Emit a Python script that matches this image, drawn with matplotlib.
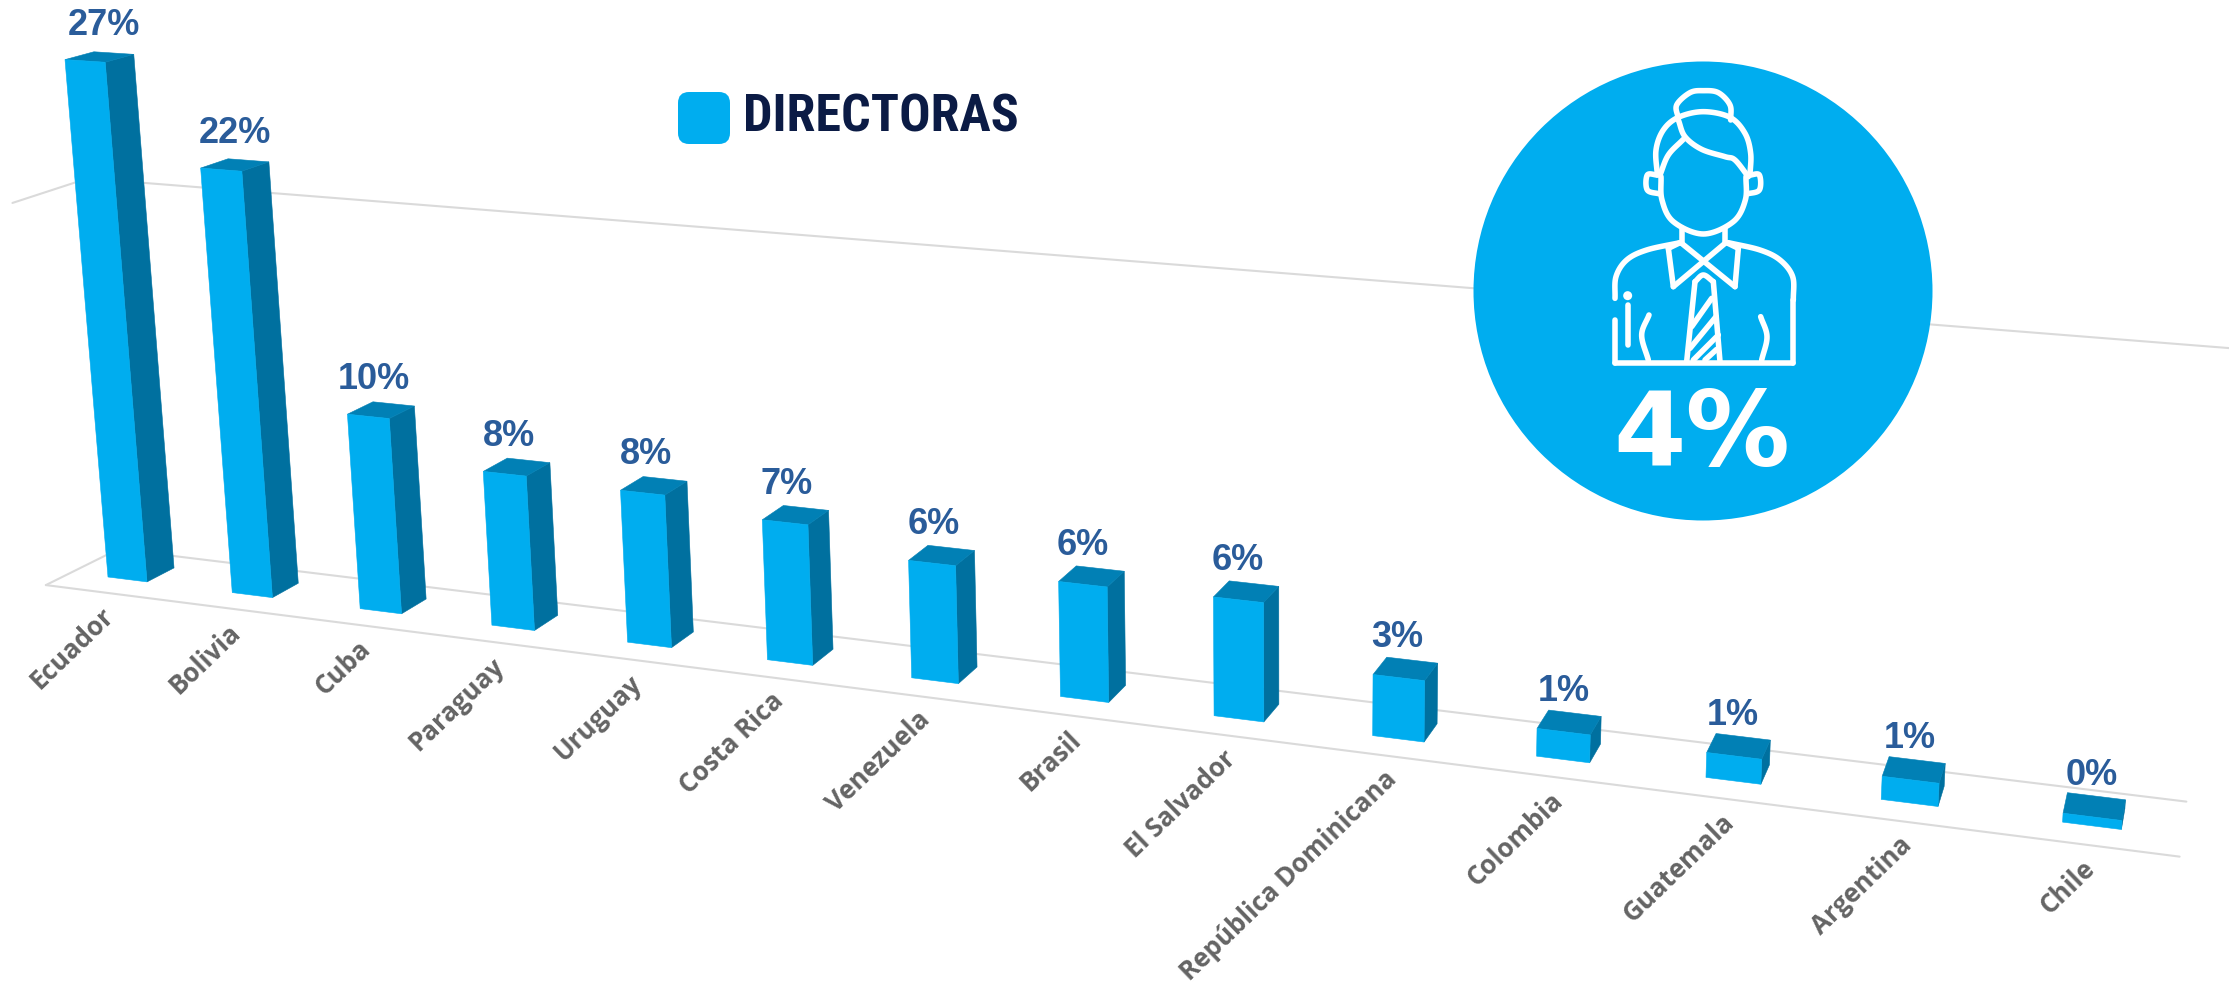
import numpy as np
import matplotlib
matplotlib.use("Agg")
import matplotlib.pyplot as plt
from matplotlib.patches import Polygon, Circle, FancyBboxPatch
from matplotlib import font_manager as fm

# ---- data -------------------------------------------------------------
categories = ["Ecuador", "Bolivia", "Cuba", "Paraguay", "Uruguay", "Costa Rica", "Venezuela",
              "Brasil", "El Salvador", "República Dominicana", "Colombia", "Guatemala",
              "Argentina", "Chile"]
values = [27.0, 22.0, 10.1, 7.9, 7.7, 7.0, 5.8, 5.6, 5.7, 2.9, 1.3, 1.15, 1.05, 0.4]
value_labels = ["27%", "22%", "10%", "8%", "8%", "7%", "6%", "6%", "6%", "3%", "1%", "1%", "1%", "0%"]
gridline_value = 20
legend_label = "DIRECTORAS"
overall_label = "4%"

# ---- style ------------------------------------------------------------
FRONT, SIDE, TOP = "#00ADEF", "#00709F", "#0180B5"
LABEL, CAT, GRID, NAVY = "#2A5C9A", "#646464", "#DADADA", "#0B1B45"
names = {f.name for f in fm.fontManager.ttflist}
condensed = [n for n in ("Liberation Sans Narrow", "Roboto Condensed", "Open Sans Condensed",
                         "Noto Sans Condensed") if n in names]
legend_font = condensed[0] if condensed else "Roboto"
legend_size = 37.5 if condensed else 33.5

W, H = 2229, 997
fig = plt.figure(figsize=(W / 100, H / 100), dpi=100, facecolor="white")
ax = fig.add_axes([0, 0, 1, 1])
ax.set_xlim(0, W)
ax.set_ylim(H, 0)
ax.axis("off")

# ---- perspective projection of (category, depth, value) to the canvas --
G, D, E = -0.01425, 0.01234, -0.0013


def project(x, z, v):
    w = 1 + G * x + D * z + E * v
    u = 108 + 120.96 * x + 2354 * D * z + 1290 * E * v
    y = 577 + 7.14 * x - 561 * D * z + 14800 * E * v
    return (u / w, y / w)


BAR_W, BAR_D = 0.317, 1.0
X0, X1, Z0, Z1 = -0.3, 13.64, -0.9, 1.7


def segment(a, b, **kw):
    pa, pb = project(*a), project(*b)
    ax.plot([pa[0], pb[0]], [pa[1], pb[1]], color=GRID, lw=1.5, zorder=1,
            solid_capstyle="round", **kw)


segment((X0, Z0, 0), (X1, Z0, 0))
segment((X0, Z0, 0), (X0, Z1, 0))
segment((X0, Z1, 0), (X1, Z1, 0))
segment((X0, Z0, gridline_value), (X0, Z1, gridline_value))
segment((X0, Z1, gridline_value), (X1 + 0.4, Z1, gridline_value))

label_nudge = [10, 6, -1, -2, -2, -3, -2, -3, -3, -2, 1, 0, 2, 3]
for i, (cat, v, txt) in enumerate(zip(categories, values, value_labels)):
    l, r = i, i + BAR_W
    ax.add_patch(Polygon([project(r, 0, 0), project(r, BAR_D, 0), project(r, BAR_D, v), project(r, 0, v)],
                         fc=SIDE, ec=SIDE, lw=0.4, zorder=3))
    ax.add_patch(Polygon([project(l, 0, v), project(r, 0, v), project(r, BAR_D, v), project(l, BAR_D, v)],
                         fc=TOP, ec=TOP, lw=0.4, zorder=3))
    ax.add_patch(Polygon([project(l, 0, 0), project(r, 0, 0), project(r, 0, v), project(l, 0, v)],
                         fc=FRONT, ec=FRONT, lw=0.4, zorder=4))
    cx, cy = project(i + BAR_W / 2, BAR_D / 2, v)
    ax.text(cx - 6 + label_nudge[i], cy - 31, txt, ha="center", va="center", color=LABEL,
            family="Liberation Sans", weight="bold", fontsize=26, zorder=6)
    bx, by = project(i, 0, 0)
    ax.text(bx + 2 + 2.03 * i, by + 35 + 0.55 * i, cat, rotation=44, rotation_mode="anchor",
            ha="right", va="center", color=CAT, family="Open Sans", weight="bold",
            fontsize=18.6, zorder=6)

# ---- legend -----------------------------------------------------------
ax.add_patch(FancyBboxPatch((690, 104), 28, 28, boxstyle="round,pad=12,rounding_size=11",
                            fc=FRONT, ec="none", zorder=5))
ax.text(743, 118, legend_label, ha="left", va="center", color=NAVY, family=legend_font, weight="bold",
        fontsize=legend_size, zorder=6)

# ---- badge with the icon ------------------------------------------------
ax.add_patch(Circle((1703, 291), 229.5, fc=FRONT, ec="none", zorder=7))


def spline(points, n=14):
    p = np.array(points, float)
    if len(p) == 2:
        return p
    q = np.vstack([2 * p[0] - p[1], p, 2 * p[-1] - p[-2]])
    out = []
    for k in range(1, len(q) - 2):
        for t in np.linspace(0, 1, n, endpoint=False):
            a, b, c, d = q[k - 1], q[k], q[k + 1], q[k + 2]
            out.append(0.5 * (2 * b + (c - a) * t + (2 * a - 5 * b + 4 * c - d) * t ** 2
                              + (3 * b - a - 3 * c + d) * t ** 3))
    out.append(p[-1])
    return np.array(out)


curves = [
    [(655, 175), (650, 135), (690, 98), (730, 92), (775, 98), (810, 135), (812, 180)],
    [(592, 345), (588, 270), (610, 210), (655, 172), (730, 155), (810, 172), (855, 220), (872, 280), (870, 345)],
    [(600, 345), (625, 285), (670, 238)],
    [(655, 180), (675, 230), (725, 268), (795, 290), (825, 300), (865, 350)],
    [(592, 345), (562, 345), (562, 390), (600, 402)],
    [(870, 345), (898, 345), (898, 390), (860, 402)],
    [(603, 350), (606, 420), (640, 485), (730, 522), (820, 485), (856, 420), (858, 350)],
    [(665, 505), (665, 548)],
    [(795, 505), (795, 548)],
    [(660, 548), (560, 570), (500, 600), (468, 650), (465, 715)],
    [(805, 548), (900, 570), (960, 600), (998, 650), (1000, 720)],
    [(1000, 720), (1000, 910)],
    [(465, 780), (465, 910)],
    [(465, 910), (1000, 910)],
    [(625, 565), (640, 680)],
    [(835, 565), (825, 680)],
    [(640, 680), (795, 550)],
    [(825, 680), (665, 550)],
    [(625, 565), (660, 548)],
    [(835, 565), (800, 548)],
    [(705, 665), (680, 905)],
    [(760, 665), (780, 905)],
    [(705, 665), (730, 645), (760, 665)],
    [(695, 800), (755, 715)],
    [(690, 865), (768, 770)],
    [(700, 900), (775, 825)],
    [(735, 900), (770, 868)],
    [(503, 735), (503, 855)],
    [(567, 765), (545, 825), (565, 900)],
    [(902, 770), (921, 830), (905, 900)],
]
for c in curves:
    s = spline(c)
    ax.plot(1460 + s[:, 0] / 3, 60 + s[:, 1] / 3, color="white", lw=4, zorder=8,
            solid_capstyle="round", solid_joinstyle="round")
ax.add_patch(Circle((1460 + 503 / 3, 60 + 707 / 3), 4.5, fc="white", ec="none", zorder=8))
ax.text(1702, 437, overall_label, ha="center", va="center", color="white", family="DejaVu Sans",
        weight="bold", fontsize=75, zorder=8)

fig.savefig("out.png", dpi=100, facecolor="white")
